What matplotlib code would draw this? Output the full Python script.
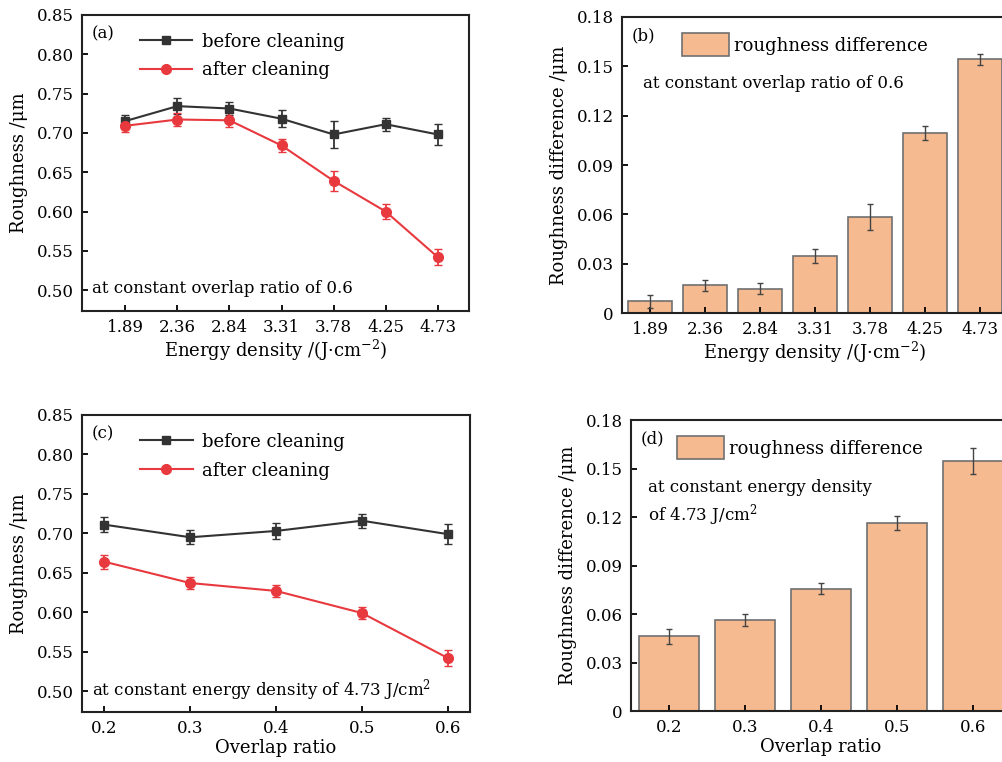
import numpy as np
import matplotlib
matplotlib.use("Agg")
import matplotlib.pyplot as plt
from matplotlib.lines import Line2D

plt.rcParams["font.family"] = ["DejaVu Serif"]
plt.rcParams["mathtext.fontset"] = "dejavuserif"

# (a) / (b): energy density series at overlap ratio 0.6
energy_labels = ["1.89", "2.36", "2.84", "3.31", "3.78", "4.25", "4.73"]
before_a = [0.715, 0.734, 0.731, 0.718, 0.698, 0.711, 0.698]
before_a_err = [0.008, 0.010, 0.0085, 0.0105, 0.017, 0.0085, 0.013]
after_a = [0.709, 0.717, 0.716, 0.684, 0.639, 0.600, 0.542]
after_a_err = [0.008, 0.0085, 0.009, 0.0085, 0.013, 0.009, 0.010]
diff_b = [0.0071, 0.0168, 0.0148, 0.0347, 0.0584, 0.1095, 0.1543]
diff_b_err = [0.004, 0.0035, 0.0035, 0.0044, 0.008, 0.004, 0.0033]

# (c) / (d): overlap ratio series at 4.73 J/cm2
overlap = [0.2, 0.3, 0.4, 0.5, 0.6]
before_c = [0.711, 0.695, 0.703, 0.716, 0.699]
before_c_err = [0.0095, 0.0087, 0.010, 0.009, 0.013]
after_c = [0.664, 0.637, 0.627, 0.599, 0.542]
after_c_err = [0.009, 0.008, 0.008, 0.008, 0.010]
diff_d = [0.0463, 0.0564, 0.0756, 0.1163, 0.1546]
diff_d_err = [0.0047, 0.0038, 0.0035, 0.0044, 0.008]

BLACK = "#333333"
RED = "#e8393e"
BAR = "#f5ba8f"
BAR_EDGE = "#707070"
FS = 12


def style_axes(ax):
    for s in ax.spines.values():
        s.set_linewidth(1.5)
        s.set_color("#222222")
    ax.tick_params(direction="in", length=4, width=1.3, labelsize=FS,
                   top=False, right=False, pad=6)


def line_panel(ax, x, xlabels, before, before_err, after, after_err, tag, note):
    ax.errorbar(x, before, yerr=before_err, color=BLACK, marker="s", ms=6,
                lw=1.5, capsize=3, elinewidth=1.3)
    ax.errorbar(x, after, yerr=after_err, color=RED, marker="o", ms=7,
                lw=1.5, capsize=3, elinewidth=1.3)
    ax.set_ylim(0.4735, 0.85)
    ax.set_yticks(np.arange(0.50, 0.851, 0.05))
    ax.set_yticklabels([f"{v:.2f}" for v in np.arange(0.50, 0.851, 0.05)])
    ax.set_xticks(x)
    ax.set_xticklabels(xlabels)
    ax.set_ylabel("Roughness /μm", fontsize=FS + 1, labelpad=6)
    ax.text(0.025, 0.965, tag, transform=ax.transAxes, fontsize=FS,
            va="top", ha="left")
    handles = [Line2D([], [], color=BLACK, marker="s", ms=6, lw=1.5),
               Line2D([], [], color=RED, marker="o", ms=7, lw=1.5)]
    ax.legend(handles, ["before cleaning", "after cleaning"], loc="upper left",
              bbox_to_anchor=(0.108, 0.995), frameon=False, fontsize=FS + 1,
              handlelength=2.9, labelspacing=0.6, handletextpad=0.55)
    ax.text(0.025, 0.075, note, transform=ax.transAxes, fontsize=FS,
            va="center", ha="left")
    style_axes(ax)


def bar_panel(ax, x, width, xlabels, diff, diff_err, tag, leg_x):
    ax.bar(x, diff, width=width, color=BAR, edgecolor=BAR_EDGE, linewidth=1.2,
           label="roughness difference")
    ax.errorbar(x, diff, yerr=diff_err, fmt="none", ecolor="#444444",
                elinewidth=1.0, capsize=2.5)
    ax.set_ylim(0, 0.18)
    ticks = np.arange(0, 0.181, 0.03)
    ax.set_yticks(ticks)
    ax.set_yticklabels(["0"] + [f"{v:.2f}" for v in ticks[1:]])
    ax.set_xticks(x)
    ax.set_xticklabels(xlabels)
    ax.set_ylabel("Roughness difference /μm", fontsize=FS + 1, labelpad=6)
    ax.text(0.025, 0.965, tag, transform=ax.transAxes, fontsize=FS,
            va="top", ha="left")
    ax.legend(loc="upper left", bbox_to_anchor=(leg_x, 1.0), frameon=False,
              fontsize=FS + 1, handlelength=2.6, handleheight=1.6,
              handletextpad=0.3)
    style_axes(ax)


fig = plt.figure(figsize=(10.03, 7.62), dpi=100)

ax_a = fig.add_axes([0.0818, 0.5919, 0.3858, 0.3885])
idx = np.arange(len(energy_labels))
line_panel(ax_a, idx, energy_labels, before_a, before_a_err, after_a, after_a_err,
           "(a)", "at constant overlap ratio of 0.6")
ax_a.set_xlim(-0.83, 6.6)
ax_a.set_xlabel("Energy density /(J·cm$^{-2}$)", fontsize=FS + 1, labelpad=1)

ax_b = fig.add_axes([0.6201, 0.5892, 0.3839, 0.3885])
bar_panel(ax_b, idx, 0.8, energy_labels, diff_b, diff_b_err, "(b)", 0.113)
ax_b.set_xlim(-0.51, 6.49)
ax_b.set_xlabel("Energy density /(J·cm$^{-2}$)", fontsize=FS + 1, labelpad=1)
ax_b.text(0.055, 0.777, "at constant overlap ratio of 0.6", transform=ax_b.transAxes,
          fontsize=FS, va="center", ha="left")

ax_c = fig.add_axes([0.0818, 0.0656, 0.3868, 0.3898])
line_panel(ax_c, overlap, [str(v) for v in overlap], before_c, before_c_err,
           after_c, after_c_err, "(c)", "at constant energy density of 4.73 J/cm$^2$")
ax_c.set_xlim(0.174, 0.626)
ax_c.set_xlabel("Overlap ratio", fontsize=FS + 1, labelpad=1)

ax_d = fig.add_axes([0.6291, 0.0669, 0.3789, 0.3819])
bar_panel(ax_d, overlap, 0.08, [str(v) for v in overlap], diff_d, diff_d_err, "(d)", 0.078)
ax_d.set_xlim(0.15, 0.65)
ax_d.set_xlabel("Overlap ratio", fontsize=FS + 1, labelpad=1)
ax_d.text(0.045, 0.712, "at constant energy density\nof 4.73 J/cm$^2$",
          transform=ax_d.transAxes, fontsize=FS, va="center", ha="left",
          linespacing=1.35)

fig.savefig("out.png", dpi=100)
